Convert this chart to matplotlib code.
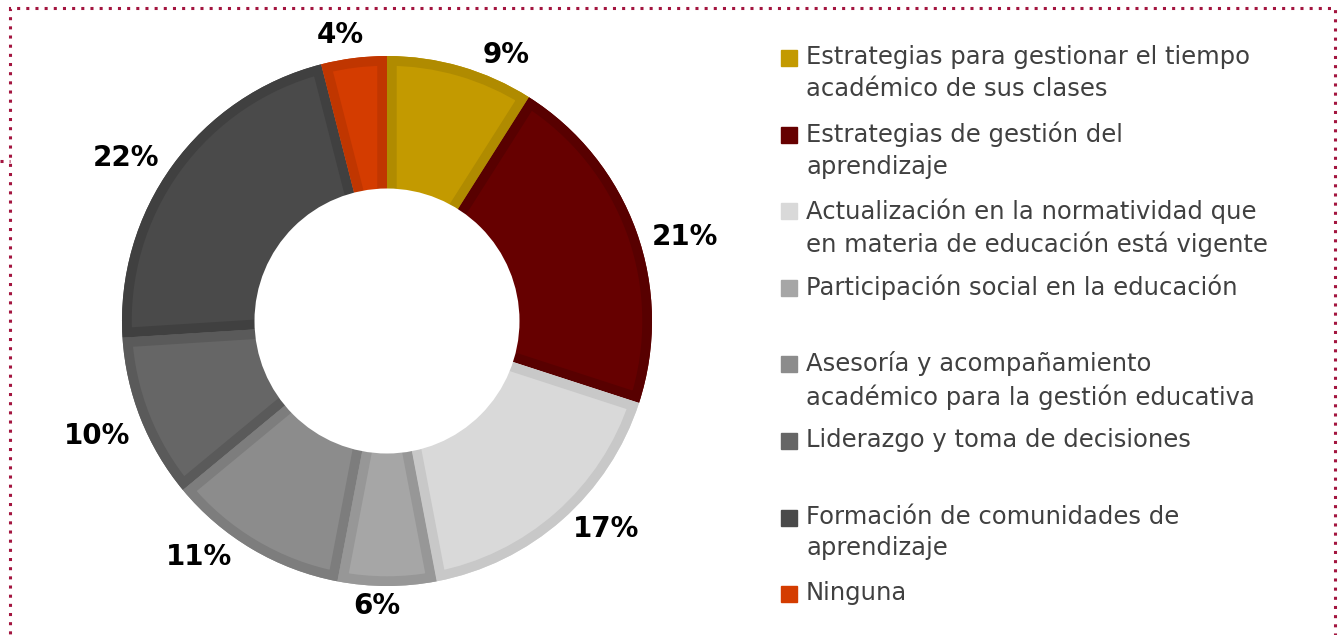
import numpy as np
import matplotlib.pyplot as plt
from matplotlib.patches import Rectangle, Wedge, Circle

# data
categorias = [
    "Estrategias para gestionar el tiempo\nacadémico de sus clases",
    "Estrategias de gestión del\naprendizaje",
    "Actualización en la normatividad que\nen materia de educación está vigente",
    "Participación social en la educación",
    "Asesoría y acompañamiento\nacadémico para la gestión educativa",
    "Liderazgo y toma de decisiones",
    "Formación de comunidades de\naprendizaje",
    "Ninguna",
]
porcentajes = [9, 21, 17, 6, 11, 10, 22, 4]
colores = ["#C39A00", "#660000", "#D9D9D9", "#A6A6A6",
           "#8C8C8C", "#666666", "#4A4A4A", "#D43C00"]
bordes = ["#B08B00", "#580000", "#C8C8C8", "#979797",
          "#7D7D7D", "#5A5A5A", "#404040", "#C03600"]
# small angular nudges (deg) and radii for the % labels, like Excel's best fit
ajuste_ang = [-8, -4, 5, -2, -8, 0, 4, 2]
ajuste_rad = [1.10, 1.17, 1.14, 1.075, 1.14, 1.175, 1.16, 1.095]

W, H = 1338, 635
plt.rcParams['font.family'] = ['DejaVu Sans']
fig = plt.figure(figsize=(W / 100, H / 100), dpi=100)

# axes in pixel-based data units (1 unit = pie radius)
cx, cy, R = 387, 321, 265
ax = fig.add_axes([0, 0, 1, 1])

wedges, _ = ax.pie(porcentajes, colors=colores, startangle=90, counterclock=False,
                   radius=1, wedgeprops=dict(width=0.56, linewidth=0))
# pie() resets the limits, so set them afterwards
ax.set_xlim(-cx / R, (W - cx) / R)
ax.set_ylim(-(H - cy) / R, cy / R)
ax.set_aspect('equal')
ax.axis('off')

# inner stroke: an outline copy of each wedge clipped to the wedge
for w, b in zip(wedges, bordes):
    borde = Wedge(w.center, w.r, w.theta1, w.theta2, width=w.width,
                  fill=False, edgecolor=b, linewidth=14)
    ax.add_patch(borde)
    borde.set_clip_path(w)

# white hole covers the inner edge (no stroke there in the original)
ax.add_patch(Circle((0, 0), 0.5, facecolor='white', edgecolor='none', zorder=5))

# percentage labels
acum = 0
for p, da, r in zip(porcentajes, ajuste_ang, ajuste_rad):
    ang = np.deg2rad(90 - (acum + p / 2) * 3.6 + da)
    acum += p
    ax.text(r * np.cos(ang), r * np.sin(ang), f"{p}%", ha='center', va='center',
            fontsize=20, fontweight='bold', color='black')

# legend drawn by hand
y0, paso = 58, 76.6
for i, (cat, col) in enumerate(zip(categorias, colores)):
    yc = y0 + i * paso
    fig.patches.append(Rectangle((781 / W, 1 - (yc + 8) / H), 16 / W, 16 / H,
                                 transform=fig.transFigure, color=col))
    fig.text(806 / W, 1 - (yc - 13) / H, cat, ha='left', va='top',
             fontsize=17.5, color='#404040', linespacing=1.4)

# dotted frame
marco = '#A3153F'
fig.patches.append(Rectangle((10 / W, -0.05), (1335 - 10) / W, 1.05 - 8 / H,
                             transform=fig.transFigure, fill=False,
                             edgecolor=marco, linestyle=(0, (1, 2)), linewidth=2.2))
fig.lines.append(plt.Line2D([0, 10 / W], [1 - 161 / H, 1 - 161 / H], transform=fig.transFigure,
                            color=marco, linestyle=(0, (1, 2)), linewidth=2.2))

fig.savefig("out.png", dpi=100)
